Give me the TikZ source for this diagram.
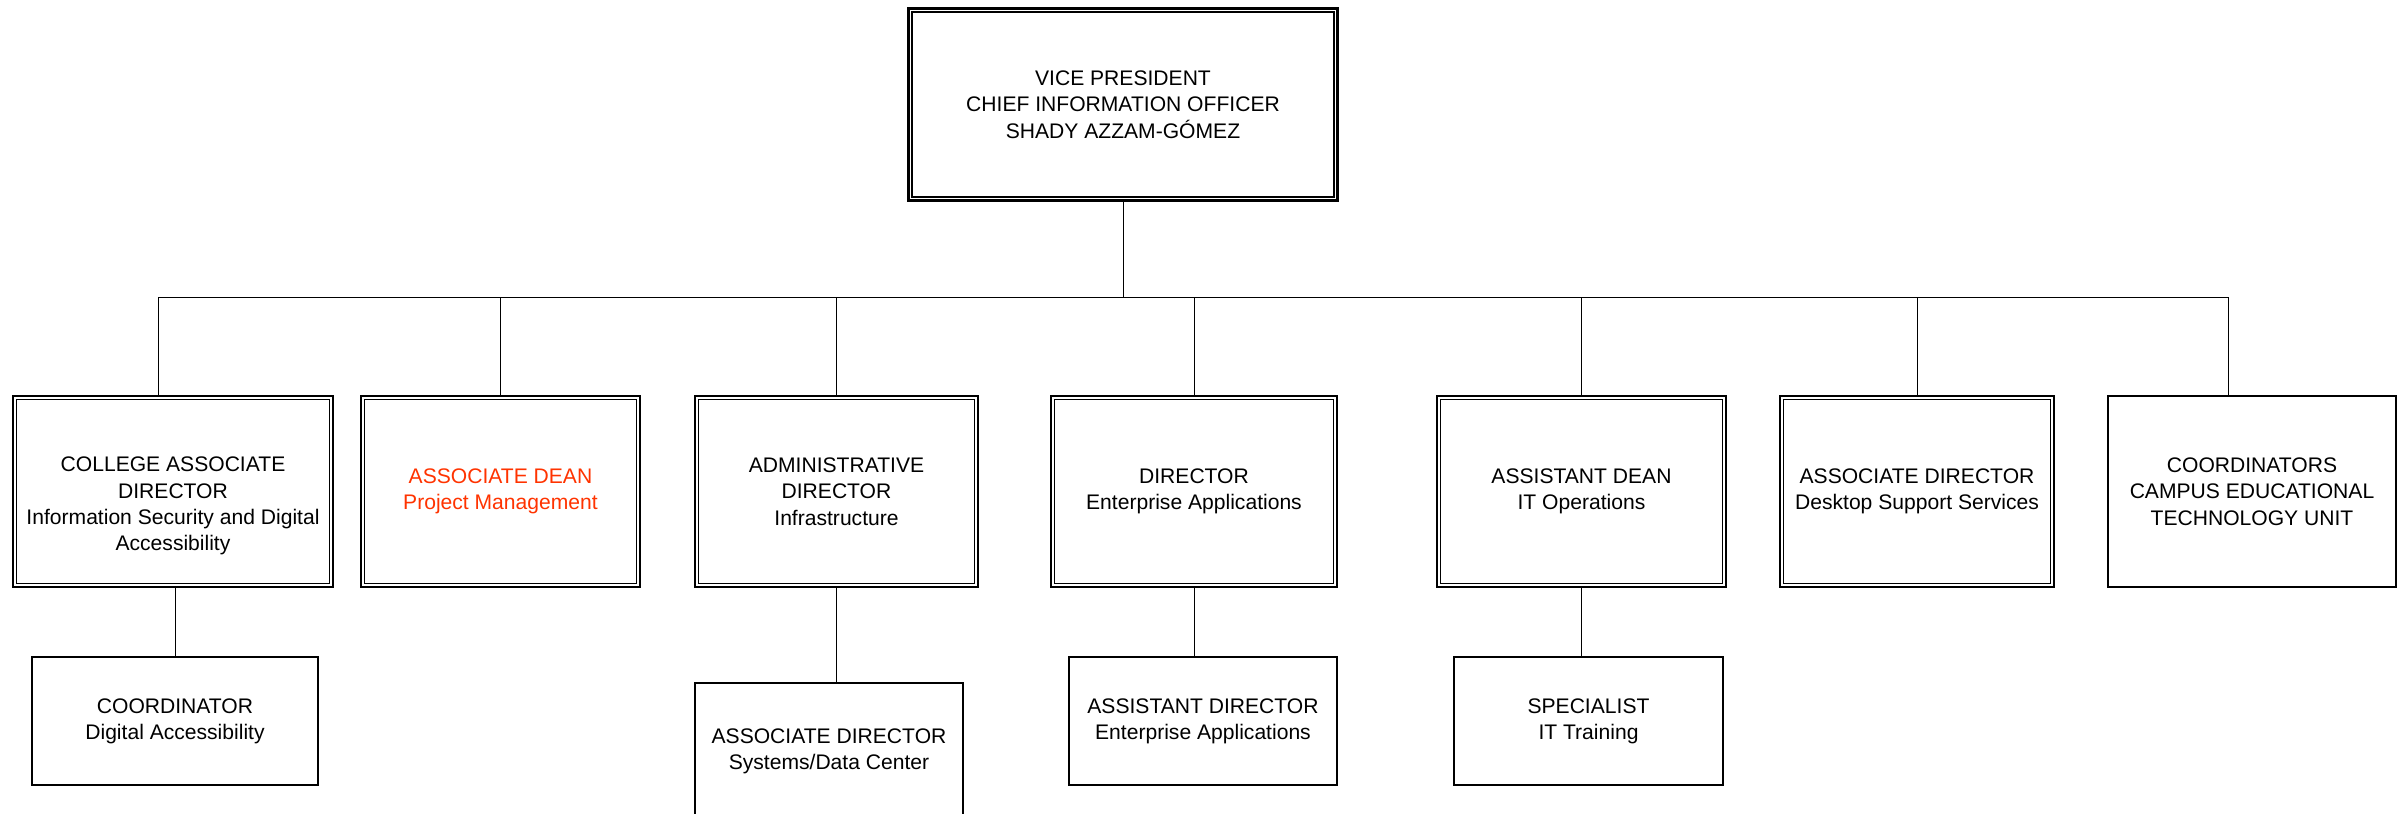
\documentclass[tikz,border=0pt]{standalone}
\usepackage{fontspec}
\setmainfont{Liberation Sans}
\newcommand\orgfont{\fontsize{6}{7.5}\selectfont}
\definecolor{deanred}{RGB}{255,51,0}
\tikzset{
  box/.style={draw, rectangle, line width=0.55pt, align=center, inner sep=0pt, font=\orgfont},
  dbox/.style={box, line width=0.6pt,
    append after command={\pgfextra{\draw[line width=0.35pt]
      ([shift={(1.3pt,1.3pt)}]\tikzlastnode.south west) rectangle
      ([shift={(-1.3pt,-1.3pt)}]\tikzlastnode.north east);}}},
  link/.style={line width=0.28pt}}

\begin{document}
\begin{tikzpicture}
  \useasboundingbox (0,0) rectangle (24.03,-8.13);
  \clip (0,0) rectangle (24.03,-8.13);
  \node[dbox, minimum width=4.29cm, minimum height=1.92cm] (vp) at (11.23,-1.045)
    {VICE PRESIDENT\\CHIEF INFORMATION OFFICER\\SHADY AZZAM-GÓMEZ};
  \node[dbox, minimum width=3.20cm, minimum height=1.91cm] (cad) at (1.73,-4.915)
    {\rule{0pt}{12.5pt}COLLEGE ASSOCIATE\\DIRECTOR\\Information Security and Digital\\Accessibility};
  \node[dbox, minimum width=2.79cm, minimum height=1.91cm, text=deanred] (pm) at (5.005,-4.915)
    {ASSOCIATE DEAN\\Project Management};
  \node[dbox, minimum width=2.83cm, minimum height=1.91cm] (infra) at (8.365,-4.915)
    {ADMINISTRATIVE\\DIRECTOR\\Infrastructure};
  \node[dbox, minimum width=2.86cm, minimum height=1.91cm] (ent) at (11.94,-4.915)
    {DIRECTOR\\Enterprise Applications};
  \node[dbox, minimum width=2.89cm, minimum height=1.91cm] (itops) at (15.815,-4.915)
    {ASSISTANT DEAN\\IT Operations};
  \node[dbox, minimum width=2.74cm, minimum height=1.91cm] (dss) at (19.17,-4.915)
    {ASSOCIATE DIRECTOR\\Desktop Support Services};
  \node[box, minimum width=2.88cm, minimum height=1.91cm] (cetu) at (22.52,-4.915)
    {COORDINATORS\\CAMPUS EDUCATIONAL\\TECHNOLOGY UNIT};
  \node[box, minimum width=2.86cm, minimum height=1.28cm] (dacc) at (1.75,-7.21)
    {COORDINATOR\\Digital Accessibility};
  \node[box, minimum width=2.68cm, minimum height=1.36cm] (sysdc) at (8.29,-7.51)
    {ASSOCIATE DIRECTOR\\Systems/Data Center};
  \node[box, minimum width=2.68cm, minimum height=1.28cm] (asdir) at (12.03,-7.21)
    {ASSISTANT DIRECTOR\\Enterprise Applications};
  \node[box, minimum width=2.69cm, minimum height=1.28cm] (ittr) at (15.885,-7.21)
    {SPECIALIST\\IT Training};
  \coordinate (busL) at (1.58,-2.97);
  \coordinate (busR) at (22.28,-2.97);
  \draw[link] (busL)--(busR);
  \draw[link] (vp.south)--(vp.south |- busL);
  \draw[link] (busL)--(busL |- cad.north);
  \draw[link] (busR)--(busR |- cetu.north);
  \foreach \n in {pm,infra,ent,itops,dss}
    \draw[link] (\n.north)--(\n.north |- busL);
  \draw[link] (dacc.north)--(dacc.north |- cad.south);
  \draw[link] (infra.south)--(infra.south |- sysdc.north);
  \draw[link] (ent.south)--(ent.south |- asdir.north);
  \draw[link] (itops.south)--(itops.south |- ittr.north);
\end{tikzpicture}
\end{document}
